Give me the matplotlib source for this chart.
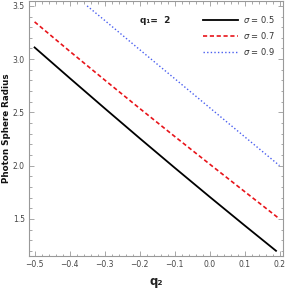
import matplotlib
matplotlib.use("Agg")
import matplotlib.pyplot as plt
from matplotlib.ticker import MultipleLocator
import numpy as np

# Data
x_black = [-0.5, -0.4, -0.3, -0.2, -0.1, 0.0, 0.1, 0.19]
y_black = [3.11, 2.823, 2.539, 2.258, 1.981, 1.708, 1.439, 1.20]
x_red = [-0.5, -0.4, -0.3, -0.2, -0.1, 0.0, 0.1, 0.2]
y_red = [3.35, 3.075, 2.805, 2.538, 2.275, 2.015, 1.757, 1.50]
x_blue = [-0.35, -0.3, -0.2, -0.1, 0.0, 0.1, 0.2]
y_blue = [3.50, 3.365, 3.09, 2.818, 2.545, 2.272, 2.00]
labels = [r"$\sigma$ = 0.5", r"$\sigma$ = 0.7", r"$\sigma$ = 0.9"]

fig = plt.figure(figsize=(2.88, 2.88), dpi=100)
ax = fig.add_axes([29/288, (288-255.7)/288, 254/288, 254.7/288])

ax.plot(x_black, y_black, color="black", lw=1.3, label=labels[0])
ax.plot(x_red, y_red, color="#e8141a", lw=1.2, ls=(0, (2.5, 1.6)), label=labels[1])
ax.plot(x_blue, y_blue, color="#4a5ff0", lw=1.0, ls=(0, (1, 1.6)), label=labels[2])

ax.set_xlim(-0.516, 0.21)
ax.set_ylim(1.154, 3.546)
ax.xaxis.set_major_locator(MultipleLocator(0.1))
ax.xaxis.set_minor_locator(MultipleLocator(0.02))
ax.yaxis.set_major_locator(MultipleLocator(0.5))
ax.yaxis.set_minor_locator(MultipleLocator(0.1))
ax.xaxis.set_major_formatter(matplotlib.ticker.FuncFormatter(lambda v, p: f"{v:.1f}".replace("-0.0", "0.0").replace("-", "\u2212")))
ax.yaxis.set_major_formatter(matplotlib.ticker.FuncFormatter(lambda v, p: f"{v:.1f}"))

ax.tick_params(which="both", direction="in", top=True, right=True, colors="#999999",
               labelcolor="#444444", labelsize=5.5, width=0.6)
ax.tick_params(which="major", length=3.5, pad=3)
ax.tick_params(which="minor", length=1.8)
for s in ax.spines.values():
    s.set_color("#999999")
    s.set_linewidth(0.8)

ax.set_xlabel("q\u2082", fontsize=8.5, fontweight="bold", color="#222222", va="center")
ax.xaxis.set_label_coords(0.5, -0.1)
ax.set_ylabel("Photon Sphere Radius", fontsize=6.3, fontweight="bold", color="#111111", va="center")
ax.yaxis.set_label_coords(-0.088, 0.5)

ax.text(0.437, 0.925, "q\u2081=  2", transform=ax.transAxes, fontsize=6.5,
        fontweight="bold", color="#222222", va="center", ha="left")

leg = ax.legend(loc="upper left", bbox_to_anchor=(0.67, 0.962), frameon=False,
                fontsize=6, handlelength=4.2, labelspacing=0.62, handletextpad=0.6,
                borderaxespad=0)
for t in leg.get_texts():
    t.set_color("#333333")

fig.savefig("out.png", dpi=100)
